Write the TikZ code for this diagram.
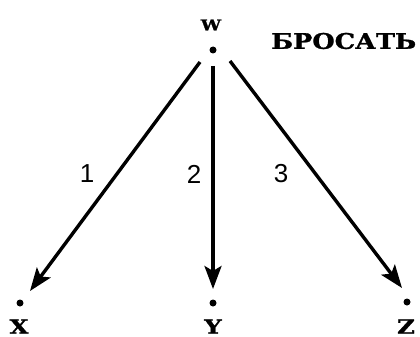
\documentclass[tikz,border=0pt]{standalone}
\usepackage{fontspec}
\setmainfont{Liberation Sans}
\newfontfamily\serf{DejaVu Serif}[FakeBold=1.2]
\usetikzlibrary{arrows.meta}
\begin{document}
\begin{tikzpicture}[x=1pt,y=-1pt,
  pt/.style={circle,fill=black,inner sep=0pt,minimum size=7pt},
  arr/.style={line width=3.4pt,-{Stealth[length=23pt,width=17pt,inset=5pt]}},
  lab/.style={font=\serf\bfseries\fontsize{19.5}{19.5}\selectfont,inner sep=0pt},
  num/.style={font=\fontsize{26}{26}\selectfont,inner sep=0pt}]
\useasboundingbox (0,0) rectangle (420,337);
\node[pt] (w) at (213,50) {};
\node[pt] (x) at (20,303) {};
\node[pt] (y) at (213,303) {};
\node[pt] (z) at (407,302) {};
\node[lab,font=\serf\bfseries\fontsize{15}{15}\selectfont] (wl) at (211,25) {\scalebox{1.2}[1]{W}};
\node[lab] (xl) at (19,326.5) {\scalebox{1.25}[1]{X}};
\node[lab] (yl) at (213,326.5) {\scalebox{1.25}[1]{Y}};
\node[lab] (zl) at (406,326.5) {\scalebox{1.25}[1]{Z}};
\node[lab,anchor=west] (br) at (271,41) {\resizebox{145pt}{16pt}{БРОСАТЬ}};
\coordinate (ws) at (200,62);
\coordinate (wm) at (213,66);
\coordinate (we) at (230,61);
\coordinate (xt) at (30,291);
\coordinate (yt) at (213,289);
\coordinate (zt) at (402,288);
\draw[arr] (ws) -- (xt);
\draw[arr] (wm) -- (yt);
\draw[arr] (we) -- (zt);
\node[num] (n1) at (87,174) {1};
\node[num] (n2) at (194,174) {2};
\node[num] (n3) at (281,174) {3};
\end{tikzpicture}
\end{document}
